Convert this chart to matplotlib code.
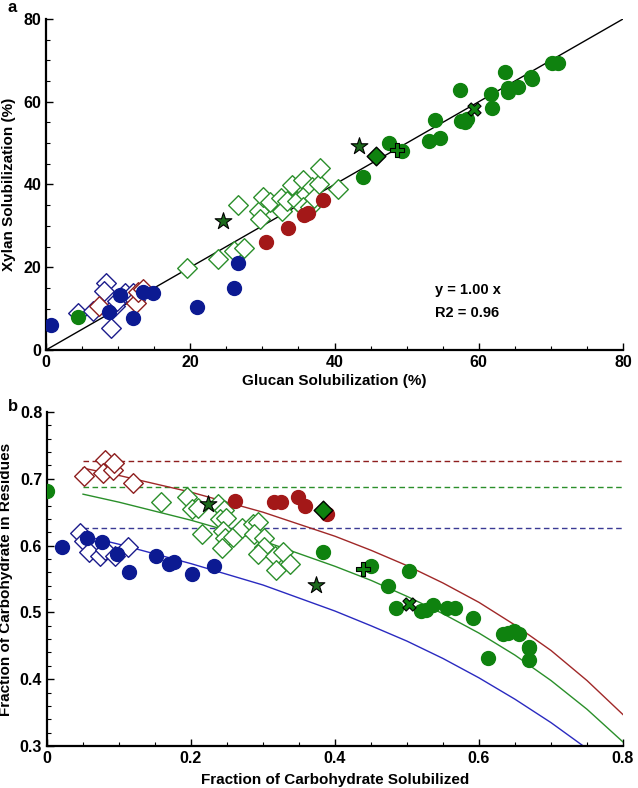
import numpy as np
import matplotlib
matplotlib.use('Agg')
import matplotlib.pyplot as plt
from matplotlib.ticker import MultipleLocator

plt.rcParams['font.family'] = ['Liberation Sans', 'DejaVu Sans']
plt.rcParams['font.weight'] = 'bold'

#panel a: glucan vs xylan solubilization (%)
blue_fill_a_x = [0.7, 8.8, 10.2, 12.0, 13.5, 14.8, 21.0, 26.1, 26.6]
blue_fill_a_y = [6.0, 9.1, 13.3, 7.8, 13.9, 13.8, 10.4, 15.0, 21.0]
blue_open_a_x = [4.5, 6.5, 8.3, 8.0, 9.0, 9.6, 9.8, 11.0, 12.1, 12.4]
blue_open_a_y = [9.0, 9.4, 16.2, 14.3, 5.3, 10.7, 11.8, 13.7, 13.7, 12.0]
red_open_a_x = [7.4, 12.5, 12.8, 13.4]
red_open_a_y = [10.7, 11.3, 14.0, 14.8]
red_fill_a_x = [30.5, 33.6, 35.8, 36.3, 38.4]
red_fill_a_y = [26.2, 29.5, 32.6, 33.0, 36.2]
green_open_a_x = [19.6, 23.9, 26.1, 27.5, 26.6, 29.6, 29.7, 30.1, 31.0, 32.6, 32.7, 33.4,
                  34.1, 34.8, 35.7, 36.0, 35.6, 36.6, 36.9, 37.1, 37.9, 38.0, 40.5]
green_open_a_y = [19.8, 22.1, 24.0, 24.6, 35.0, 33.6, 31.6, 37.0, 35.8, 36.8, 33.6, 36.1,
                  39.8, 36.0, 41.1, 37.8, 34.6, 34.6, 39.4, 36.8, 40.0, 44.0, 38.8]
green_fill_a_x = [4.4, 44.0, 47.5, 49.4, 53.1, 54.6, 54.0, 57.4, 57.6, 58.1, 58.4, 61.7, 61.9,
                  63.7, 64.1, 64.1, 65.5, 67.3, 67.4, 70.2, 71.0]
green_fill_a_y = [7.9, 41.8, 50.0, 48.2, 50.6, 51.2, 55.7, 62.8, 55.3, 55.2, 55.8, 61.8, 58.5,
                  67.3, 63.3, 62.4, 63.5, 66.1, 65.5, 69.3, 69.4]
star_a_x = [24.5, 43.4]
star_a_y = [31.2, 49.2]
diamond_a = (45.7, 46.9)
plus_a = (48.7, 48.4)
cross_a = (59.3, 58.2)
fit_x = [0, 80]
fit_y = [0, 80]

#panel b: fraction solubilized vs fraction in residues
blue_fill_b_x = [0.021, 0.055, 0.077, 0.097, 0.114, 0.152, 0.170, 0.177, 0.201, 0.232]
blue_fill_b_y = [0.598, 0.611, 0.606, 0.587, 0.560, 0.585, 0.572, 0.575, 0.557, 0.569]
blue_open_b_x = [0.046, 0.052, 0.058, 0.073, 0.081, 0.094, 0.112]
blue_open_b_y = [0.619, 0.607, 0.591, 0.585, 0.593, 0.584, 0.598]
red_open_b_x = [0.051, 0.081, 0.078, 0.091, 0.093, 0.120]
red_open_b_y = [0.704, 0.728, 0.709, 0.713, 0.724, 0.693]
red_fill_b_x = [0.261, 0.315, 0.325, 0.349, 0.358, 0.389]
red_fill_b_y = [0.667, 0.666, 0.666, 0.673, 0.660, 0.647]
green_open_b_x = [0.158, 0.194, 0.202, 0.210, 0.215, 0.238, 0.246, 0.240, 0.249, 0.245, 0.247,
                  0.258, 0.243, 0.271, 0.286, 0.293, 0.288, 0.301, 0.302, 0.293, 0.317, 0.318,
                  0.328, 0.337]
green_open_b_y = [0.666, 0.673, 0.655, 0.657, 0.618, 0.663, 0.653, 0.640, 0.641, 0.622, 0.612,
                  0.613, 0.597, 0.627, 0.632, 0.636, 0.617, 0.612, 0.598, 0.587, 0.584, 0.564,
                  0.590, 0.572]
green_fill_b_x = [0.0, 0.384, 0.450, 0.474, 0.485, 0.503, 0.520, 0.526, 0.536, 0.556, 0.567,
                  0.592, 0.613, 0.634, 0.640, 0.649, 0.655, 0.669, 0.669, 0.669]
green_fill_b_y = [0.681, 0.591, 0.569, 0.539, 0.506, 0.562, 0.502, 0.504, 0.511, 0.507, 0.507,
                  0.491, 0.432, 0.468, 0.469, 0.472, 0.467, 0.448, 0.447, 0.429]
star_b_x = [0.223, 0.374]
star_b_y = [0.662, 0.541]
diamond_b = (0.384, 0.654)
plus_b = (0.439, 0.565)
cross_b = (0.503, 0.512)

#limits (dashed) and model curves (solid)
dash_x = [0.05, 0.8]
red_limit = 0.726
green_limit = 0.688
blue_limit = 0.627
curve_x = [0.05, 0.1, 0.2, 0.3, 0.4, 0.45, 0.5, 0.55, 0.6, 0.65, 0.7, 0.75, 0.8]
red_curve = [0.716, 0.705, 0.680, 0.650, 0.614, 0.593, 0.570, 0.544, 0.515, 0.481, 0.443, 0.398, 0.347]
green_curve = [0.677, 0.665, 0.638, 0.607, 0.569, 0.548, 0.524, 0.498, 0.469, 0.436, 0.398, 0.355, 0.306]
blue_curve = [0.615, 0.602, 0.573, 0.541, 0.502, 0.480, 0.457, 0.431, 0.402, 0.370, 0.335, 0.296, 0.252]

BLUE = '#0c1a92'
RED = '#a31818'
GREEN = '#0f820f'
BLUE_E = '#1c1c8c'
RED_E = '#8e1e1e'
GREEN_E = '#2b8f2b'
STAR = '#1c6a1c'


def style_axes(ax):
	ax.spines['top'].set_visible(False)
	ax.spines['right'].set_visible(False)
	ax.spines['left'].set_linewidth(1.6)
	ax.spines['bottom'].set_linewidth(1.6)
	ax.tick_params(which='both', direction='in', labelsize=11.5)
	ax.tick_params(which='major', length=5, width=1.0)
	ax.tick_params(which='minor', length=3, width=0.8)


def draw_points(ax, s):
	#s is a dict of the series for one panel
	ax.scatter(s['blue_open'][0], s['blue_open'][1], marker='D', s=100, facecolors='white',
	           edgecolors=BLUE_E, linewidths=1.0, zorder=3)
	ax.scatter(s['red_open'][0], s['red_open'][1], marker='D', s=100, facecolors='white',
	           edgecolors=RED_E, linewidths=1.0, zorder=3)
	ax.scatter(s['green_open'][0], s['green_open'][1], marker='D', s=100, facecolors='white',
	           edgecolors=GREEN_E, linewidths=1.0, zorder=3)
	ax.scatter(s['blue_fill'][0], s['blue_fill'][1], marker='o', s=100, color=BLUE, zorder=4)
	ax.scatter(s['red_fill'][0], s['red_fill'][1], marker='o', s=100, color=RED, zorder=4)
	ax.scatter(s['green_fill'][0], s['green_fill'][1], marker='o', s=100, color=GREEN, zorder=4)
	ax.scatter(s['star'][0], s['star'][1], marker='*', s=160, facecolors=STAR,
	           edgecolors='black', linewidths=0.8, zorder=5)
	ax.scatter([s['diamond'][0]], [s['diamond'][1]], marker='D', s=90, facecolors=GREEN,
	           edgecolors='black', linewidths=1.0, zorder=5)
	ax.scatter([s['plus'][0]], [s['plus'][1]], marker='P', s=90, facecolors=GREEN,
	           edgecolors='black', linewidths=0.8, zorder=5)
	ax.scatter([s['cross'][0]], [s['cross'][1]], marker='X', s=90, facecolors=GREEN,
	           edgecolors='black', linewidths=0.8, zorder=5)


fig = plt.figure(figsize=(6.38, 7.88), dpi=100)

## panel a
ax1 = fig.add_axes([46/638, 1-350/788, 577/638, 331/788])
ax1.plot(fit_x, fit_y, color='black', lw=1.0, zorder=2)
draw_points(ax1, {'blue_open': (blue_open_a_x, blue_open_a_y), 'red_open': (red_open_a_x, red_open_a_y),
                  'green_open': (green_open_a_x, green_open_a_y), 'blue_fill': (blue_fill_a_x, blue_fill_a_y),
                  'red_fill': (red_fill_a_x, red_fill_a_y), 'green_fill': (green_fill_a_x, green_fill_a_y),
                  'star': (star_a_x, star_a_y), 'diamond': diamond_a, 'plus': plus_a, 'cross': cross_a})
ax1.set_xlim(0, 80)
ax1.set_ylim(0, 80)
ax1.set_xticks([0, 20, 40, 60, 80])
ax1.set_yticks([0, 20, 40, 60, 80])
ax1.xaxis.set_minor_locator(MultipleLocator(5))
ax1.yaxis.set_minor_locator(MultipleLocator(5))
style_axes(ax1)
ax1.set_xlabel('Glucan Solubilization (%)', fontsize=11, fontweight='bold', labelpad=3)
ax1.set_ylabel('Xylan Solubilization (%)', fontsize=11, fontweight='bold', labelpad=5)
ax1.text(54, 14.5, 'y = 1.00 x', fontsize=10.5, fontweight='bold', va='center')
ax1.text(54, 8.9, 'R2 = 0.96', fontsize=10.5, fontweight='bold', va='center')
fig.text(8/638, 1-8/788, 'a', fontsize=12, fontweight='bold', va='center')

## panel b
ax2 = fig.add_axes([47/638, 1-746/788, 576/638, 334/788])
ax2.plot(dash_x, [red_limit, red_limit], color=RED_E, lw=1.0, ls=(0, (4, 2.5)), zorder=2)
ax2.plot(dash_x, [green_limit, green_limit], color=GREEN_E, lw=1.0, ls=(0, (4, 2.5)), zorder=2)
ax2.plot(dash_x, [blue_limit, blue_limit], color='#3a3a94', lw=1.0, ls=(0, (4, 2.5)), zorder=2)
ax2.plot(curve_x, red_curve, color='#a02828', lw=1.0, zorder=2)
ax2.plot(curve_x, green_curve, color='#2a8f2a', lw=1.0, zorder=2)
ax2.plot(curve_x, blue_curve, color='#2a2ac0', lw=1.0, zorder=2)
draw_points(ax2, {'blue_open': (blue_open_b_x, blue_open_b_y), 'red_open': (red_open_b_x, red_open_b_y),
                  'green_open': (green_open_b_x, green_open_b_y), 'blue_fill': (blue_fill_b_x, blue_fill_b_y),
                  'red_fill': (red_fill_b_x, red_fill_b_y), 'green_fill': (green_fill_b_x, green_fill_b_y),
                  'star': (star_b_x, star_b_y), 'diamond': diamond_b, 'plus': plus_b, 'cross': cross_b})
ax2.set_xlim(0, 0.8)
ax2.set_ylim(0.3, 0.8)
ax2.set_xticks([0, 0.2, 0.4, 0.6, 0.8])
ax2.set_xticklabels(['0', '0.2', '0.4', '0.6', '0.8'])
ax2.set_yticks([0.3, 0.4, 0.5, 0.6, 0.7, 0.8])
ax2.xaxis.set_minor_locator(MultipleLocator(0.05))
ax2.yaxis.set_minor_locator(MultipleLocator(0.02))
style_axes(ax2)
ax2.set_xlabel('Fraction of Carbohydrate Solubilized', fontsize=11, fontweight='bold', labelpad=5)
ax2.set_ylabel('Fraction of Carbohydrate in Residues', fontsize=11, fontweight='bold', labelpad=5)
fig.text(8/638, 1-406/788, 'b', fontsize=12, fontweight='bold', va='center')

plt.savefig('out.png', dpi=100)
